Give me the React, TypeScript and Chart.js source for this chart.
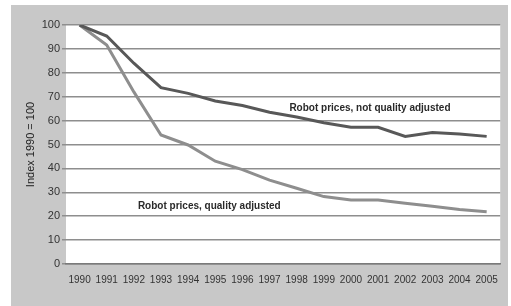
import React, { useEffect, useRef } from "react";
import { Chart, registerables } from "chart.js";

Chart.register(...registerables);

const years = ["1990","1991","1992","1993","1994","1995","1996","1997","1998","1999","2000","2001","2002","2003","2004","2005"];
const notQualityAdjusted = [100, 95.4, 84, 73.8, 71.4, 68.2, 66.3, 63.5, 61.5, 59.1, 57.2, 57.2, 53.4, 55, 54.4, 53.4];
const qualityAdjusted = [100, 91.6, 72, 54, 49.8, 43, 39.5, 35.1, 31.7, 28.2, 26.8, 26.8, 25.4, 24.2, 22.8, 21.9];
const yTicks = [0, 10, 20, 30, 40, 50, 60, 70, 80, 90, 100];
const labelNotAdj = "Robot prices, not quality adjusted";
const labelAdj = "Robot prices, quality adjusted";
const yTitle = "Index 1990 = 100";

const plotBg = {
  id: "plotBg",
  beforeDraw(chart: any) {
    const { ctx, chartArea } = chart;
    ctx.save();
    ctx.fillStyle = "#ffffff";
    ctx.fillRect(chartArea.left, chartArea.top, chartArea.right - chartArea.left, chartArea.bottom - chartArea.top);
    ctx.restore();
  },
};

const seriesLabels = {
  id: "seriesLabels",
  afterDatasetsDraw(chart: any) {
    const { ctx, scales } = chart;
    ctx.save();
    ctx.font = "bold 10px 'Liberation Sans', Arial, sans-serif";
    ctx.fillStyle = "#2a2a2a";
    ctx.textAlign = "center";
    ctx.textBaseline = "middle";
    ctx.fillText(labelNotAdj, scales.x.getPixelForValue(10.7), scales.y.getPixelForValue(65.3));
    ctx.fillText(labelAdj, scales.x.getPixelForValue(4.78), scales.y.getPixelForValue(24));
    ctx.restore();
  },
};

export default function App() {
  const ref = useRef<HTMLCanvasElement | null>(null);
  useEffect(() => {
    if (!ref.current) return;
    const chart = new Chart(ref.current, {
      type: "line",
      data: {
        labels: years,
        datasets: [
          {
            label: labelNotAdj,
            data: notQualityAdjusted,
            borderColor: "#585858",
            borderWidth: 3,
            pointRadius: 0,
            tension: 0,
          },
          {
            label: labelAdj,
            data: qualityAdjusted,
            borderColor: "#8e8e8e",
            borderWidth: 3,
            pointRadius: 0,
            tension: 0,
          },
        ],
      },
      options: {
        animation: false,
        responsive: false,
        maintainAspectRatio: false,
        layout: { padding: { left: 0, right: 7, top: 20, bottom: 0 } },
        plugins: { legend: { display: false }, tooltip: { enabled: false } },
        scales: {
          x: {
            offset: true,
            grid: { display: false, drawTicks: false },
            border: { display: true, color: "#7a7a7a", width: 1.5 },
            ticks: {
              color: "#333",
              font: { size: 10, family: "'Liberation Sans', Arial, sans-serif" },
              maxRotation: 0,
              autoSkip: false,
              padding: 10,
            },
            afterFit(scale: any) { scale.height = 42; },
          },
          y: {
            min: 0,
            max: 100,
            afterBuildTicks(scale: any) { scale.ticks = yTicks.map((v) => ({ value: v })); },
            grid: { color: "#8e8e8e", lineWidth: 1.5, tickLength: 4 },
            border: { display: false },
            ticks: {
              color: "#333",
              font: { size: 11, family: "'Liberation Sans', Arial, sans-serif" },
              padding: 2,
            },
            title: {
              display: true,
              text: yTitle,
              color: "#222",
              font: { size: 11, family: "'Liberation Sans', Arial, sans-serif" },
              padding: { top: 13, bottom: 0 },
            },
            afterFit(scale: any) { scale.width = 55; },
          },
        },
      },
      plugins: [plotBg, seriesLabels],
    });
    return () => chart.destroy();
  }, []);
  return (
    <div style={{ position: "fixed", left: 0, top: 0, width: 511, height: 306, background: "#ffffff" }}>
      <div style={{ position: "absolute", left: 11, top: 5, width: 497, height: 301, background: "#c8c8c8" }}>
        <canvas ref={ref} width={497} height={301} style={{ display: "block", width: 497, height: 301 }} />
      </div>
    </div>
  );
}
